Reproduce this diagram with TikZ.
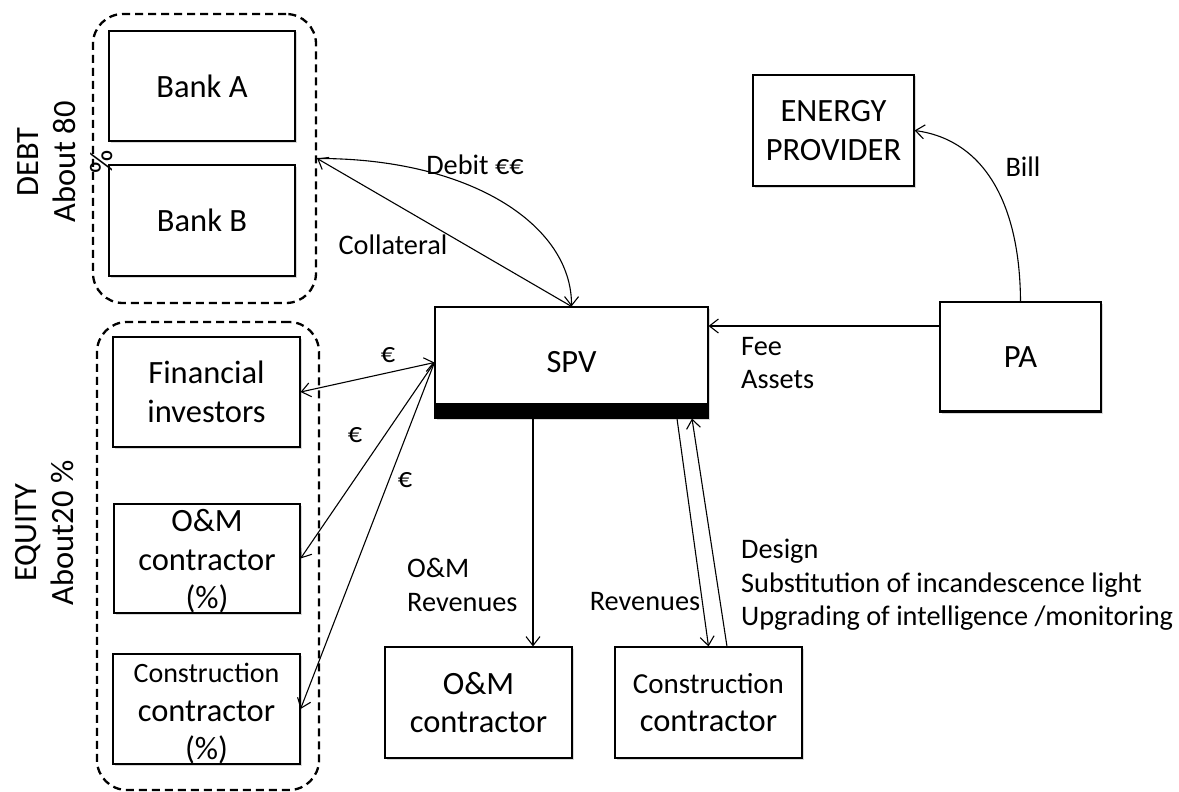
\documentclass[tikz,border=0pt]{standalone}
\usepackage{fontspec}
\setmainfont{Carlito}
\usetikzlibrary{arrows.meta,shadows,calc}
\begin{document}
\begin{tikzpicture}[x=1pt,y=-1pt,
  box/.style={draw, line width=1.1pt, fill=white, inner sep=0pt, align=center,
    font=\fontsize{32.5}{38.5}\selectfont,
    drop shadow={shadow xshift=1.5pt, shadow yshift=-1.5pt, opacity=0.3}},
  grp/.style={draw, line width=2.3pt, dash pattern=on 8pt off 5pt, rounded corners=30pt, inner sep=0pt},
  lbl/.style={font=\fontsize{28.3}{33.5}\selectfont, align=left, inner sep=0pt},
  side/.style={font=\fontsize{32.5}{37}\selectfont, align=center, inner sep=0pt, rotate=90},
  conn/.style={line width=1.1pt, -{Straight Barb[length=9pt,width=14pt]}},
  conn2/.style={line width=1.1pt, {Straight Barb[length=9pt,width=14pt]}-{Straight Barb[length=9pt,width=14pt]}},
]
\useasboundingbox (0,0) rectangle (1179,792);

% groups
\node[grp, minimum width=223pt, minimum height=289pt] (debt) at (204.5,158.5) {};
\node[grp, minimum width=222pt, minimum height=468pt] (equity) at (208,556) {};

% boxes
\node[box, minimum width=186pt, minimum height=110pt] (bankA) at (202,86) {Bank A};
\node[box, minimum width=186pt, minimum height=111pt] (bankB) at (202,220.5) {Bank B};
\node[box, minimum width=187pt, minimum height=110pt] (fin) at (206.5,392) {Financial\\investors};
\node[box, minimum width=186pt, minimum height=109pt] (omp) at (207,558.5) {};
\node[box, minimum width=187pt, minimum height=110pt] (ccp) at (206.5,709) {};
\node[box, minimum width=273pt, minimum height=111pt] (spv) at (571.5,362.5) {SPV};
\node[box, minimum width=161pt, minimum height=111pt] (ep) at (833.5,130.5) {ENERGY\\PROVIDER};
\node[box, minimum width=161pt, minimum height=110pt] (pa) at (1020.5,357) {PA};
\node[box, minimum width=187pt, minimum height=111pt] (om) at (478.5,702.5) {O\&M\\contractor};
\node[box, minimum width=187pt, minimum height=111pt] (cc) at (708.5,702.5) {\fontsize{29}{38.5}\selectfont Construction\\contractor};

% overflowing texts
\node[align=center, inner sep=0pt, font=\fontsize{32.5}{38.5}\selectfont] (ompt) at ([yshift=-3pt]omp.center) {O\&M\\contractor\\(\%)};
\node[align=center, inner sep=0pt, font=\fontsize{32.5}{38.5}\selectfont] (ccpt) at ([yshift=-5pt]ccp.center) {\fontsize{28}{38.5}\selectfont Construction\\contractor\\(\%)};

% SPV black bar, PA thick bottom
\fill ($(spv.south west)+(0,-16)$) rectangle (spv.south east);
\draw[line width=3pt] ($(pa.south west)+(0,-1)$) -- ($(pa.south east)+(0,-1)$);

% side labels
\node[side] (debtlbl) at (65,162) {DEBT\\About 80\\\%};
\node[side] (eqlbl) at (45,533) {EQUITY\\About20 \%};

% connectors
\draw[conn] (debt.east) .. controls (470,158) and (572,225) .. (spv.north);
\draw[conn] (spv.north) -- (debt.east);
\draw[conn] (pa.west |- 0,326) -- (spv.east |- 0,326);
\draw[conn] (pa.north) .. controls (1020,205) and (985,140) .. (ep.east);
\draw[conn2] (fin.east) -- (spv.west);
\draw[conn] (spv.west) -- (omp.east);
\draw[conn] (spv.west) -- (ccp.east);
\draw[conn] ([xshift=-38.5pt]spv.south) -- ([xshift=-38.5pt]spv.south |- om.north);
\draw[conn] ([xshift=105.5pt]spv.south) -- (cc.north);
\draw[conn] ([xshift=18.5pt]cc.north) -- ([xshift=120.5pt]spv.south);

% labels
\node[lbl] (l1) at (475,165) {Debit €€};
\node[lbl] (l2) at (393,245) {Collateral};
\node[lbl] (l3) at (1023,167) {Bill};
\node[lbl, anchor=west] (l4) at (741,363) {Fee\\Assets};
\node[lbl] (l5) at (388,355) {€};
\node[lbl] (l6) at (355,435) {€};
\node[lbl] (l7) at (405,480) {€};
\node[lbl, anchor=west] (l8) at (407,585) {O\&M\\Revenues};
\node[lbl] (l9) at (645,602) {Revenues};
\node[lbl, anchor=west] (l10) at (741,585) {Design\\Substitution of incandescence light\\Upgrading of intelligence /monitoring};
\end{tikzpicture}
\end{document}
